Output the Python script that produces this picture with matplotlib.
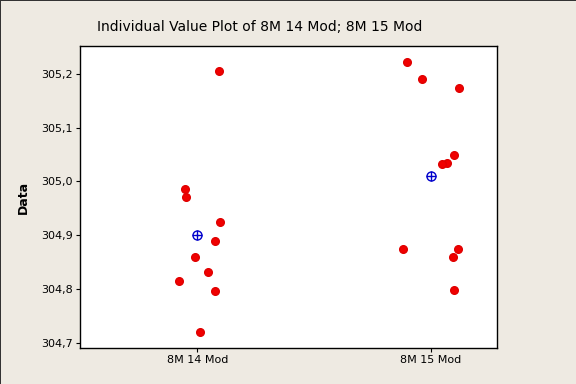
import matplotlib
matplotlib.use("Agg")
import matplotlib.pyplot as plt
from matplotlib.ticker import FuncFormatter

groups = ["8M 14 Mod", "8M 15 Mod"]
mod14 = [305.205, 304.985, 304.971, 304.924, 304.890, 304.860, 304.831, 304.815, 304.797, 304.719]
mod15 = [305.222, 305.190, 305.173, 305.049, 305.034, 305.032, 304.875, 304.875, 304.860, 304.798]
# horizontal jitter (category units)
jit14 = [0.093, -0.051, -0.047, 0.098, 0.077, -0.009, 0.047, -0.077, 0.077, 0.013]
jit15 = [-0.101, -0.039, 0.120, 0.100, 0.068, 0.047, -0.120, 0.116, 0.095, 0.100]

bg = "#EEEAE2"
fig = plt.figure(figsize=(5.76, 3.84), dpi=100, facecolor=bg)
fig.patch.set_edgecolor("#333333")
fig.patch.set_linewidth(0.7)
ax = fig.add_axes([80/576, 1 - 348/384, 417/576, 302/384])
ax.set_facecolor("white")

for i, (vals, jit) in enumerate([(mod14, jit14), (mod15, jit15)]):
    pos = i + 1
    ax.plot([pos + j for j in jit], vals, "o", color="#F00000", ms=5.5, mec="#E00000", ls="none")
    m = sum(vals) / len(vals)
    ax.plot([pos], [m], "o", mfc="none", mec="#0000CC", ms=6.5, mew=1.0)
    ax.plot([pos], [m], "+", color="#0000CC", ms=6.5, mew=1.0)

ax.set_xlim(0.498, 2.282)
ax.set_ylim(304.690, 305.252)
ax.set_xticks([1, 2])
ax.set_xticklabels(groups)
ax.set_yticks([304.7, 304.8, 304.9, 305.0, 305.1, 305.2])
ax.yaxis.set_major_formatter(FuncFormatter(lambda v, p: f"{v:.1f}".replace(".", ",")))
ax.tick_params(length=3, width=0.8, labelsize=8, colors="black", pad=2)
for s in ax.spines.values():
    s.set_linewidth(1.0)
ax.set_ylabel("Data", fontsize=9, fontweight="bold", labelpad=8)

fig.text(260/576, 1 - 27/384, "Individual Value Plot of 8M 14 Mod; 8M 15 Mod",
         ha="center", va="center", fontsize=10)

fig.savefig("out.png", dpi=100, facecolor=bg, edgecolor=fig.patch.get_edgecolor())
